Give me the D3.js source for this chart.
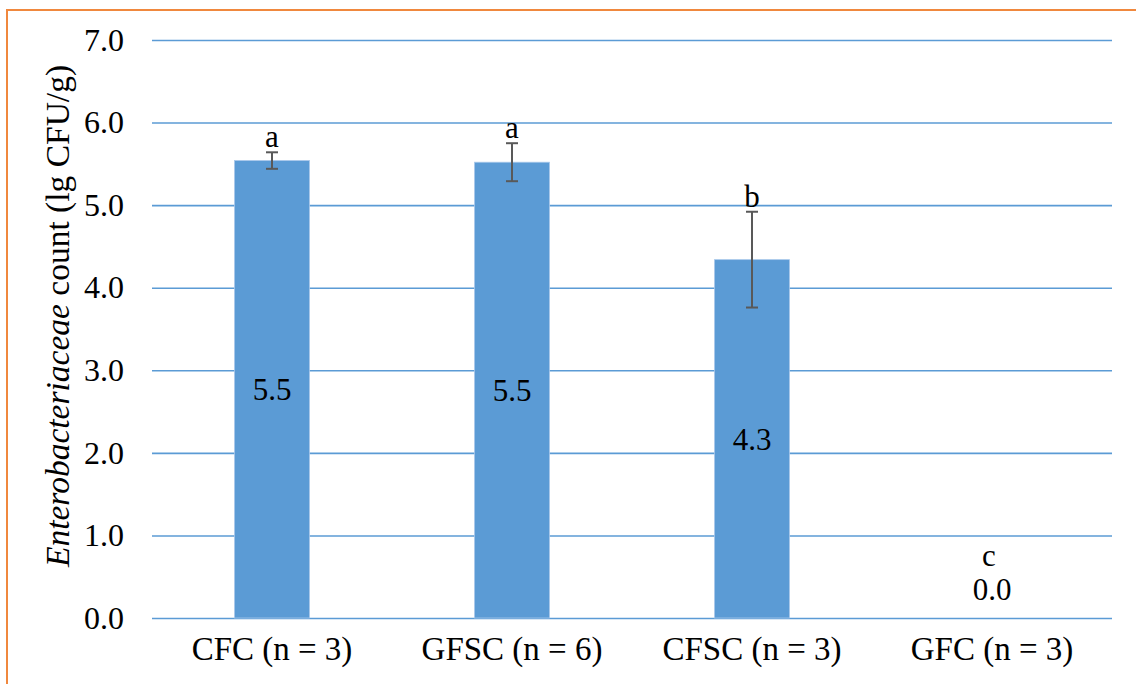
<!DOCTYPE html>
<html>
<head>
<meta charset="utf-8">
<script src="https://cdn.jsdelivr.net/npm/d3@7"></script>
<style>
  html, body { margin: 0; padding: 0; background: #fff; }
  svg { display: block; }
  svg text { fill: #000; }
</style>
</head>
<body>
<svg id="chart" width="1136" height="684"></svg>
<script>
// Enterobacteriaceae counts per group (lg CFU/g), with SD and significance letters
const groups  = ["CFC (n = 3)", "GFSC (n = 6)", "CFSC (n = 3)", "GFC (n = 3)"];
const means   = [5.54, 5.52, 4.34, 0.0];
const sds     = [0.10, 0.23, 0.58, 0.0];
const letters = ["a", "a", "b", "c"];
const yTicks  = [0, 1, 2, 3, 4, 5, 6, 7];

const svg = d3.select("#chart");
const margin = { left: 152, right: 1112, top: 40, bottom: 618 };
const blue = "#5b9bd5";
const FONT = "'Liberation Serif', 'Times New Roman', Times, serif";

// outer frame
svg.append("rect")
  .attr("x", 7).attr("y", 10)
  .attr("width", 1160).attr("height", 720)
  .attr("fill", "none")
  .attr("stroke", "#f0883e")
  .attr("stroke-width", 2);

const x = d3.scaleBand()
  .domain(groups)
  .range([margin.left, margin.right])
  .paddingInner(0).paddingOuter(0);

const y = d3.scaleLinear()
  .domain([0, 7])
  .range([margin.bottom, margin.top]);

// horizontal gridlines and y tick labels
const yAxis = d3.axisLeft(y)
  .tickValues(yTicks)
  .tickSize(-(margin.right - margin.left))
  .tickPadding(28)
  .tickFormat(d3.format(".1f"));

const gy = svg.append("g")
  .attr("transform", `translate(${margin.left},0)`)
  .call(yAxis)
  .attr("font-family", FONT)
  .attr("font-size", 32);
gy.select(".domain").remove();
gy.selectAll(".tick line")
  .attr("stroke", blue)
  .attr("stroke-width", 1.6);
gy.selectAll(".tick text")
  .attr("fill", "#000");

// bars
const barW = x.bandwidth() * 0.3125;
const cx = d => x(d) + x.bandwidth() / 2;

svg.append("g").selectAll("rect")
  .data(groups)
  .join("rect")
  .attr("x", (d) => cx(d) - barW / 2)
  .attr("y", (d, i) => y(means[i]))
  .attr("width", barW)
  .attr("height", (d, i) => y(0) - y(means[i]))
  .attr("fill", blue)
  .attr("stroke", "#a9c8ea")
  .attr("stroke-width", 0.8);

// error bars
const eb = svg.append("g")
  .attr("stroke", "#595959")
  .attr("stroke-width", 2);
groups.forEach((g, i) => {
  if (sds[i] === 0) return;
  const c = cx(g);
  const top = y(means[i] + sds[i]);
  const bot = y(means[i] - sds[i]);
  eb.append("line").attr("x1", c).attr("x2", c).attr("y1", top).attr("y2", bot);
  eb.append("line").attr("x1", c - 6).attr("x2", c + 6).attr("y1", top).attr("y2", top);
  eb.append("line").attr("x1", c - 6).attr("x2", c + 6).attr("y1", bot).attr("y2", bot);
});

// value labels (inside the bar, or above it when the bar is too short)
const valueBase = groups.map((g, i) => {
  const h = y(0) - y(means[i]);
  return h > 40 ? (y(means[i]) + y(0)) / 2 + 11 : y(means[i]) - 18;
});
svg.append("g").selectAll("text")
  .data(groups)
  .join("text")
  .attr("x", d => cx(d))
  .attr("y", (d, i) => valueBase[i])
  .attr("text-anchor", "middle")
  .attr("font-family", FONT)
  .attr("font-size", 31)
  .text((d, i) => means[i].toFixed(1));

// significance letters
svg.append("g").selectAll("text")
  .data(groups)
  .join("text")
  .attr("x", (d, i) => cx(d) - (sds[i] === 0 ? 3 : 0))
  .attr("y", (d, i) => sds[i] === 0 ? valueBase[i] - 34 : y(means[i] + sds[i]) - 5)
  .attr("text-anchor", "middle")
  .attr("font-family", FONT)
  .attr("font-size", 31)
  .text((d, i) => letters[i]);

// category labels
const xAxis = d3.axisBottom(x).tickSize(0).tickPadding(19);
const gx = svg.append("g")
  .attr("transform", `translate(0,${margin.bottom})`)
  .call(xAxis)
  .attr("font-family", FONT)
  .attr("font-size", 33);
gx.select(".domain").remove();
gx.selectAll(".tick text")
  .attr("fill", "#000");

// y axis title
const title = svg.append("text")
  .attr("transform", `translate(69,${316}) rotate(-90)`)
  .attr("text-anchor", "middle")
  .attr("font-family", FONT)
  .attr("font-size", 33.5);
title.append("tspan").attr("font-style", "italic").text("Enterobacteriaceae");
title.append("tspan").text(" count (lg CFU/g)");
</script>
</body>
</html>
